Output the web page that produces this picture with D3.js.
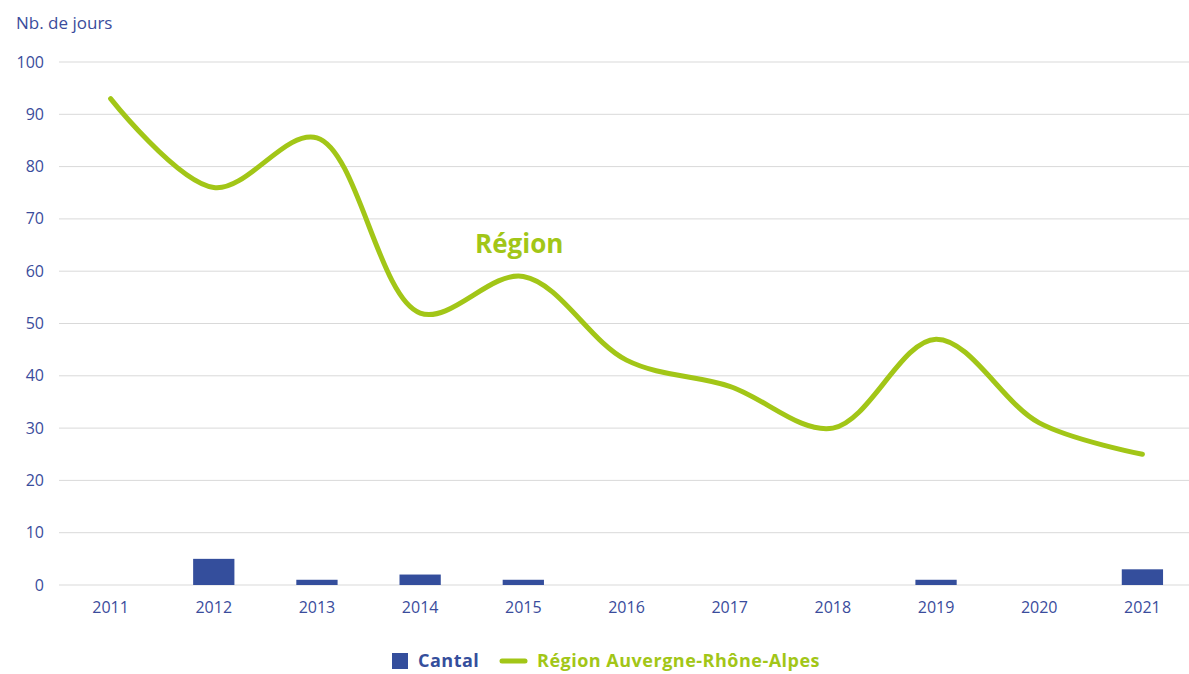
<!DOCTYPE html>
<html>
<head>
<meta charset="utf-8">
<script src="https://cdn.jsdelivr.net/npm/d3@7"></script>
<style>
  body { margin: 0; background: #fff; }
  text { font-family: "Open Sans", Lato, sans-serif; }
</style>
</head>
<body>
<div id="chart"></div>
<script>
const years = ["2011","2012","2013","2014","2015","2016","2017","2018","2019","2020","2021"];
const cantal = [0, 5, 1, 2, 1, 0, 0, 0, 1, 0, 3];
const region = [93, 76, 85.5, 52, 59, 43, 38, 30, 47, 31, 25];
const yTicks = [0, 10, 20, 30, 40, 50, 60, 70, 80, 90, 100];

let width = 1189, height = 674;
const blue = "#344e9c", green = "#a2c617", textBlue = "#3a4c9c";

const svg = d3.select("#chart").append("svg")
    .attr("width", width)
    .attr("height", height);

const x = d3.scaleBand().domain(years).range([59, 1194]).paddingInner(0.6).paddingOuter(0.3);
const xc = d => x(d) + x.bandwidth() / 2;
const y = d3.scaleLinear().domain([0, 100]).range([585, 62]);

// grid
svg.append("g")
    .selectAll("line")
    .data(yTicks)
    .enter().append("line")
    .attr("x1", 59).attr("x2", width)
    .attr("y1", d => y(d)).attr("y2", d => y(d))
    .attr("stroke", "#d9d9d9")
    .attr("stroke-width", 1);

// y labels
svg.append("g")
    .selectAll("text")
    .data(yTicks)
    .enter().append("text")
    .attr("x", 44)
    .attr("y", d => y(d) + 5.5)
    .attr("text-anchor", "end")
    .style("font-size", "16px")
    .style("fill", textBlue)
    .text(d => d);

svg.append("text")
    .attr("x", 16).attr("y", 29)
    .style("font-size", "17px")
    .style("fill", textBlue)
    .text("Nb. de jours");

// x labels
svg.append("g")
    .selectAll("text")
    .data(years)
    .enter().append("text")
    .attr("x", d => xc(d))
    .attr("y", 613)
    .attr("text-anchor", "middle")
    .style("font-size", "16px")
    .style("fill", textBlue)
    .text(d => d);

// bars
svg.append("g")
    .selectAll("rect")
    .data(years.map((yr, i) => ({ yr, v: cantal[i] })).filter(d => d.v > 0))
    .enter().append("rect")
    .attr("x", d => x(d.yr))
    .attr("width", x.bandwidth())
    .attr("y", d => y(d.v))
    .attr("height", d => y(0) - y(d.v))
    .attr("fill", blue);

// line
const line = d3.line()
    .x(d => xc(d.yr))
    .y(d => y(d.v))
    .curve(d3.curveCatmullRom.alpha(0.5));

svg.append("path")
    .datum(years.map((yr, i) => ({ yr, v: region[i] })))
    .attr("d", line)
    .attr("fill", "none")
    .attr("stroke", green)
    .attr("stroke-width", 5)
    .attr("stroke-linecap", "round");

svg.append("text")
    .attr("x", 475).attr("y", 253)
    .style("font-size", "26px")
    .style("font-weight", "bold")
    .style("fill", green)
    .text("Région");

// legend
const leg = svg.append("g");
leg.append("rect")
    .attr("x", 392).attr("y", 653)
    .attr("width", 16).attr("height", 16)
    .attr("fill", blue);
leg.append("text")
    .attr("x", 418).attr("y", 667)
    .style("font-size", "18px")
    .style("font-weight", "bold")
    .style("letter-spacing", "0.5px")
    .style("fill", blue)
    .text("Cantal");
leg.append("line")
    .attr("x1", 502).attr("x2", 525)
    .attr("y1", 661).attr("y2", 661)
    .attr("stroke", green)
    .attr("stroke-width", 5)
    .attr("stroke-linecap", "round");
leg.append("text")
    .attr("x", 537).attr("y", 667)
    .style("font-size", "18px")
    .style("font-weight", "bold")
    .style("letter-spacing", "0.5px")
    .style("fill", green)
    .text("Région Auvergne-Rhône-Alpes");
</script>
</body>
</html>
